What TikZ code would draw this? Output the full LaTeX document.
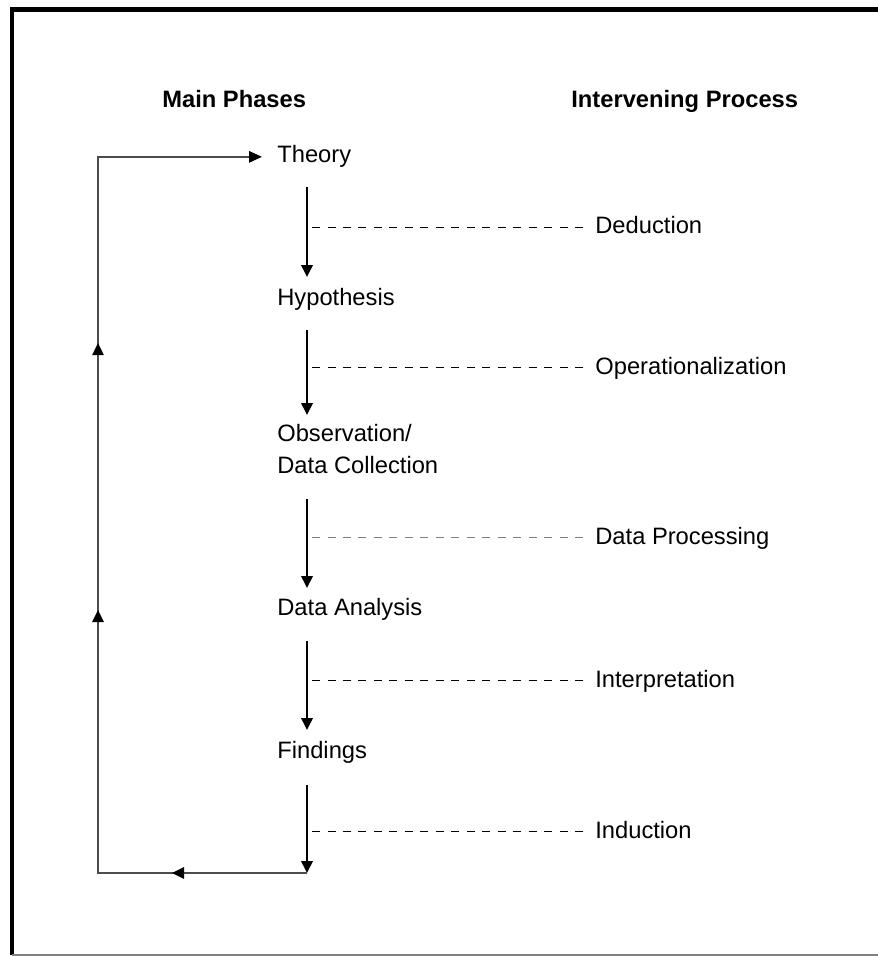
\documentclass[tikz,border=0pt]{standalone}
\usepackage{fontspec}
\setmainfont{Liberation Sans}
\usetikzlibrary{arrows.meta,decorations.markings}

\begin{document}
\begin{tikzpicture}[x=0.02cm, y=-0.02cm, every node/.style={font=\fontsize{13.5}{15.5}\selectfont, inner sep=0pt, anchor=base west, text height=10pt, text depth=3pt}, >={Triangle[length=2.4mm, width=2.3mm]}, head/.style={font=\fontsize{13.5}{15.5}\selectfont\bfseries}, flow/.style={->, line width=1.1pt}, back/.style={draw=black!70, line width=0.8pt}, link/.style={dash pattern=on 0.16cm off 0.15cm, line width=0.7pt}]
	\useasboundingbox (0,0) rectangle (877,956);
	\draw[line width=2.3pt] (12,955) -- (12,9.5) -- (900,9.5);
	\draw[gray, line width=0.8pt] (12,955) -- (900,955);
	\node[head] (mainhead) at (162,108) {Main Phases};
	\node[head] (prochead) at (571,108) {Intervening Process};
	\node (theory) at (277,163) {Theory};
	\node (hypo) at (277,305) {Hypothesis};
	\node[align=left] (obs) at (277,473) {Observation/\\[2.5pt]Data Collection};
	\node (analysis) at (277,615) {Data Analysis};
	\node (findings) at (277,758) {Findings};
	\node (deduct) at (595,234) {Deduction};
	\node (operat) at (595,374) {Operationalization};
	\node (dataproc) at (595,544) {Data Processing};
	\node (interp) at (595,687) {Interpretation};
	\node (induct) at (595,838) {Induction};
	\coordinate (s1) at (307,187); \coordinate (e1) at (307,277);
	\coordinate (s2) at (307,330); \coordinate (e2) at (307,415);
	\coordinate (s3) at (307,499); \coordinate (e3) at (307,588);
	\coordinate (s4) at (307,641); \coordinate (e4) at (307,730);
	\coordinate (s5) at (307,785); \coordinate (e5) at (307,873);
	\coordinate (corner) at (98,873);
	\draw[flow] (s1) -- (e1);
	\draw[flow] (s2) -- (e2);
	\draw[flow] (s3) -- (e3);
	\draw[flow] (s4) -- (e4);
	\draw[flow] (s5) -- (e5);
	\draw[link] (deduct.west -| s1) ++(5,0) -- ([xshift=-0.2cm]deduct.west);
	\draw[link] (operat.west -| s2) ++(5,0) -- ([xshift=-0.2cm]operat.west);
	\draw[link, gray] (dataproc.west -| s3) ++(5,0) -- ([xshift=-0.2cm]dataproc.west);
	\draw[link] (interp.west -| s4) ++(5,0) -- ([xshift=-0.2cm]interp.west);
	\draw[link] (induct.west -| s5) ++(5,0) -- ([xshift=-0.2cm]induct.west);
	\draw[back, -{Triangle[length=2.6mm, width=2.3mm, color=black]}, postaction={decorate}, decoration={markings,
		mark=at position 2.7cm with {\arrow{Triangle[length=2.4mm, width=2.3mm, color=black]}},
		mark=at position 9.44cm with {\arrow{Triangle[length=2.4mm, width=2.3mm, color=black]}},
		mark=at position 14.78cm with {\arrow{Triangle[length=2.4mm, width=2.3mm, color=black]}}}]
		(e5) -- (corner) -- (corner |- theory.west) -- ([xshift=-0.3cm]theory.west);
\end{tikzpicture}
\end{document}
